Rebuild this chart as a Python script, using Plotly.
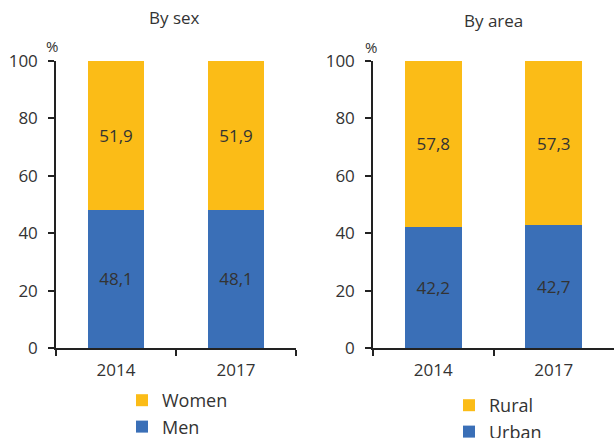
import plotly.graph_objects as go

years = ["2014", "2017"]
men = [48.1, 48.1]
women = [51.9, 51.9]
urban = [42.2, 42.7]
rural = [57.8, 57.3]
y_ticks = [0, 20, 40, 60, 80, 100]

YELLOW = "#FBBC17"
BLUE = "#3A6FB7"
TXT = "#333333"
FONT = "Open Sans"

def lab(v):
    return [f"{x:.1f}".replace(".", ",") for x in v]

fig = go.Figure()
W = 0.47
fig.add_trace(go.Bar(x=years, y=men, name="Men", marker_color=BLUE, width=W,
                     text=lab(men), textposition="inside", insidetextanchor="middle",
                     xaxis="x", yaxis="y", legend="legend"))
fig.add_trace(go.Bar(x=years, y=women, name="Women", marker_color=YELLOW, width=W,
                     text=lab(women), textposition="inside", insidetextanchor="middle",
                     xaxis="x", yaxis="y", legend="legend"))
fig.add_trace(go.Bar(x=years, y=urban, name="Urban", marker_color=BLUE, width=W,
                     text=lab(urban), textposition="inside", insidetextanchor="middle",
                     xaxis="x2", yaxis="y2", legend="legend2"))
fig.add_trace(go.Bar(x=years, y=rural, name="Rural", marker_color=YELLOW, width=W,
                     text=lab(rural), textposition="inside", insidetextanchor="middle",
                     xaxis="x2", yaxis="y2", legend="legend2"))
fig.update_traces(textfont=dict(size=17, color=TXT, family=FONT), marker_line_width=0,
                  textangle=0)

H = 438.0
Wd = 614.0
ydom = [1 - 348 / H, 1 - 61 / H]
xcommon = dict(type="category", range=[-0.5, 1.5], showline=True, linecolor="#222",
               linewidth=1.5, ticks="outside", tickson="boundaries", ticklen=6,
               tickwidth=1.5, tickcolor="#222", showgrid=False, automargin=False,
               ticklabelstandoff=6,
               tickfont=dict(size=17, color=TXT, family=FONT))
ycommon = dict(range=[0, 100], tickvals=y_ticks, showline=True, linecolor="#222",
               linewidth=1.5, ticks="outside", ticklen=6, tickwidth=1.5, tickcolor="#222",
               showgrid=False, zeroline=False, automargin=False,
               ticklabelstandoff=7,
               tickfont=dict(size=17, color=TXT, family=FONT))

fig.update_layout(
    width=614, height=438, barmode="stack", plot_bgcolor="white", paper_bgcolor="white",
    margin=dict(l=0, r=0, t=0, b=0, autoexpand=False),
    font=dict(family=FONT, color=TXT),
    xaxis=dict(domain=[56 / Wd, 296 / Wd], anchor="y", **xcommon),
    yaxis=dict(domain=ydom, anchor="x", **ycommon),
    xaxis2=dict(domain=[373 / Wd, 1.0], anchor="y2", **xcommon),
    yaxis2=dict(domain=ydom, anchor="x2", **ycommon),
    legend=dict(x=122 / Wd, y=1 - 382 / H, xanchor="left", yanchor="top",
                traceorder="reversed", font=dict(size=18, color=TXT, family=FONT),
                bgcolor="rgba(0,0,0,0)"),
    legend2=dict(x=449 / Wd, y=1 - 387 / H, xanchor="left", yanchor="top",
                 traceorder="reversed", font=dict(size=18, color=TXT, family=FONT),
                 bgcolor="rgba(0,0,0,0)"),
    annotations=[
        dict(text="By sex", x=174 / Wd, y=1 - 18 / H, xref="paper", yref="paper",
             xanchor="center", yanchor="middle", showarrow=False,
             font=dict(size=17, color=TXT, family=FONT)),
        dict(text="By area", x=493 / Wd, y=1 - 20 / H, xref="paper", yref="paper",
             xanchor="center", yanchor="middle", showarrow=False,
             font=dict(size=17, color=TXT, family=FONT)),
        dict(text="%", x=52 / Wd, y=1 - 46 / H, xref="paper", yref="paper",
             xanchor="center", yanchor="middle", showarrow=False,
             font=dict(size=15, color=TXT, family=FONT)),
        dict(text="%", x=371 / Wd, y=1 - 47 / H, xref="paper", yref="paper",
             xanchor="center", yanchor="middle", showarrow=False,
             font=dict(size=15, color=TXT, family=FONT)),
    ],
)

fig.write_html("out.html", config={"displayModeBar": False},
               post_script="document.body.style.margin='0';document.body.style.overflow='hidden';")
